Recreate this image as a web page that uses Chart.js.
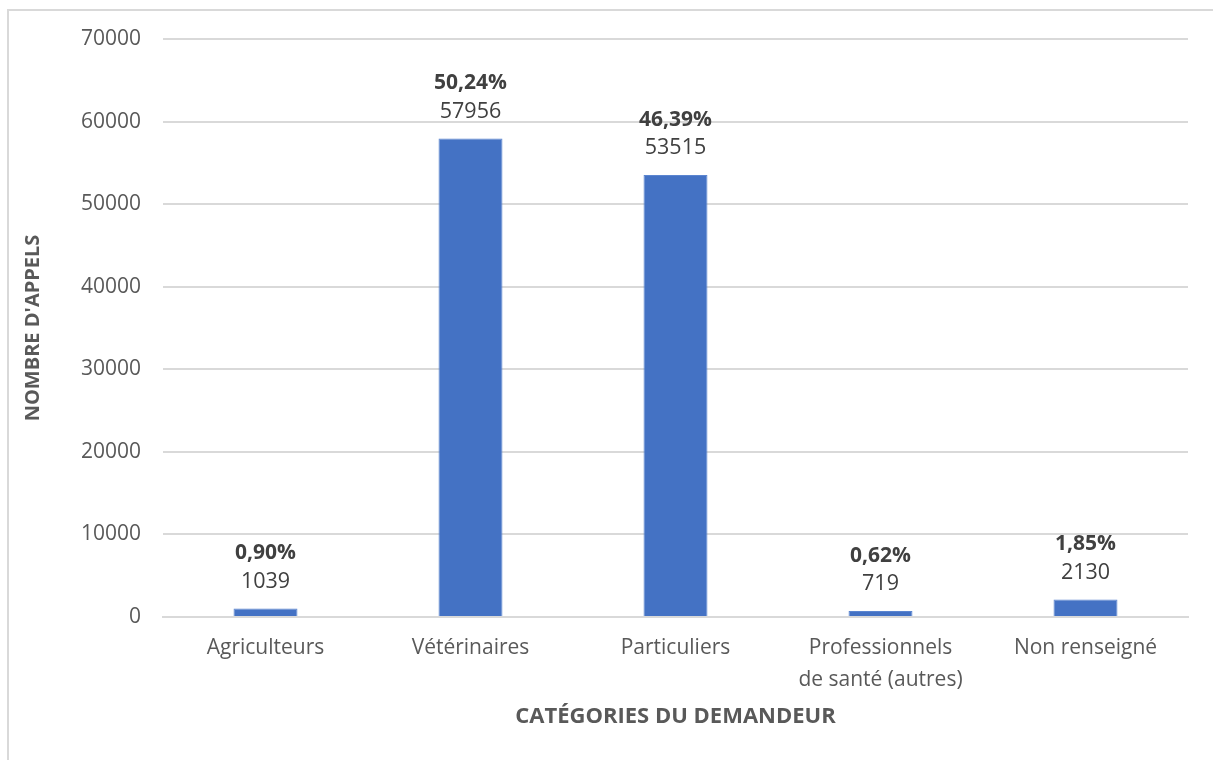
<!DOCTYPE html>
<html lang="fr">
<head>
<meta charset="utf-8">
<title>Catégories du demandeur</title>
<script src="https://cdn.jsdelivr.net/npm/chart.js@4/dist/chart.umd.min.js"></script>
<style>
  html, body { margin: 0; padding: 0; background: #fff; }
  .wrap { position: relative; width: 1213px; height: 760px; overflow: hidden; }
  .frame { position: absolute; left: 7px; top: 9px; width: 1240px; height: 800px;
           border: 2px solid #d9d9d9; box-sizing: border-box; pointer-events: none; }
  canvas { position: absolute; left: 0; top: 0; }
</style>
</head>
<body>
<div class="wrap">
  <canvas id="chart" width="1213" height="760"></canvas>
  <div class="frame"></div>
</div>
<script>
const categories = ['Agriculteurs', 'Vétérinaires', 'Particuliers', ['Professionnels', 'de santé (autres)'], 'Non renseigné'];
const callCounts = [1039, 57956, 53515, 719, 2130];
const percentLabels = ['0,90%', '50,24%', '46,39%', '0,62%', '1,85%'];

const FONT = "'Open Sans', 'Noto Sans', sans-serif";
const TEXT = '#595959';

// two-line labels above each bar: bold share, then the count
const barLabels = {
  id: 'barLabels',
  afterDatasetsDraw(chart) {
    const { ctx } = chart;
    const meta = chart.getDatasetMeta(0);
    ctx.save();
    ctx.textAlign = 'center';
    ctx.textBaseline = 'middle';
    meta.data.forEach((bar, i) => {
      ctx.fillStyle = '#404040';
      ctx.font = `bold 21px ${FONT}`;
      ctx.fillText(percentLabels[i], bar.x, bar.y - 55);
      ctx.fillStyle = '#404040';
      ctx.font = `21.5px ${FONT}`;
      ctx.fillText(String(callCounts[i]), bar.x, bar.y - 27);
    });
    ctx.restore();
  },
};

new Chart(document.getElementById('chart'), {
  type: 'bar',
  data: {
    labels: categories,
    datasets: [{
      data: callCounts,
      backgroundColor: '#4472c4',
      borderColor: '#5b85d0',
      borderWidth: 1,
      categoryPercentage: 1,
      barPercentage: 0.312,
    }],
  },
  options: {
    responsive: false,
    animation: false,
    layout: { padding: { left: 21, top: 39, right: 25, bottom: 30 } },
    plugins: { legend: { display: false }, tooltip: { enabled: false } },
    scales: {
      x: {
        grid: { display: false, drawTicks: false },
        border: { color: '#d9d9d9', width: 2 },
        ticks: { color: TEXT, font: { family: FONT, size: 21, lineHeight: 1.52 }, padding: 15, maxRotation: 0 },
        title: {
          display: true,
          text: 'CATÉGORIES DU DEMANDEUR',
          color: TEXT,
          font: { family: FONT, size: 22, weight: 'bold', lineHeight: 1.2 },
          padding: { top: 0, bottom: 0 },
        },
        afterFit: (scale) => { scale.height = 113; },
      },
      y: {
        min: 0,
        max: 70000,
        grid: { color: '#d9d9d9', lineWidth: 2, drawTicks: false },
        border: { display: false },
        ticks: {
          stepSize: 10000,
          color: TEXT,
          font: { family: FONT, size: 21 },
          padding: 22,
          callback: (v) => String(v),
        },
        title: {
          display: true,
          text: "NOMBRE D'APPELS",
          color: TEXT,
          font: { family: FONT, size: 20, weight: 'bold', lineHeight: 1.2 },
          padding: { top: 0, bottom: 0 },
        },
        afterFit: (scale) => { scale.width = 142; },
      },
    },
  },
  plugins: [barLabels],
});
</script>
</body>
</html>
